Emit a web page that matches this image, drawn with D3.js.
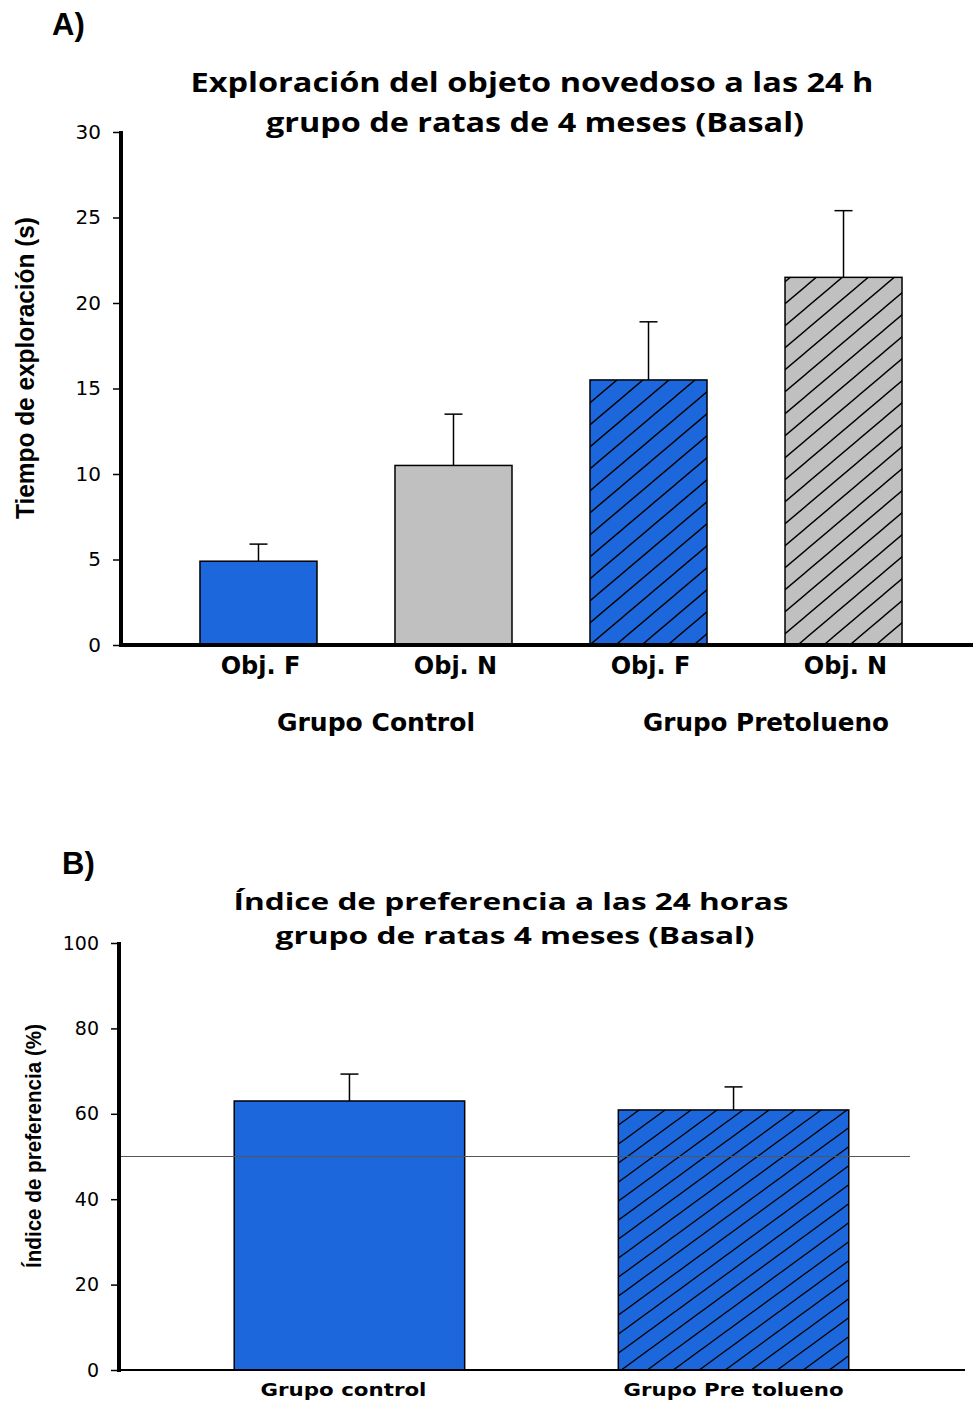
<!DOCTYPE html>
<html>
<head>
<meta charset="utf-8">
<script src="https://cdn.jsdelivr.net/npm/d3@7"></script>
<style>
  body { margin: 0; background: #fff; }
  svg { display: block; }
</style>
</head>
<body>
<div id="chart"></div>
<script>
// Panel A data
const catsA = ["Obj. F", "Obj. N", "Obj. F", "Obj. N"];
const meansA = [4.9, 10.5, 15.5, 21.5];
const errsA = [1.0, 3.0, 3.4, 3.9];
const fillsA = ["#1c67db", "#c0c0c0", "#1c67db", "#c0c0c0"];
const hatchA = [false, false, true, true];
const groupsA = ["Grupo Control", "Grupo Pretolueno"];
const ticksA = [0, 5, 10, 15, 20, 25, 30];

// Panel B data
const catsB = ["Grupo control", "Grupo Pre tolueno"];
const meansB = [63.0, 60.9];
const errsB = [6.3, 5.4];
const hatchB = [false, true];
const ticksB = [0, 20, 40, 60, 80, 100];
const refLineB = 50;

const W = 973, H = 1404;
const blue = "#1c67db";

const svg = d3.select("#chart").append("svg")
    .attr("width", W)
    .attr("height", H);

const defs = svg.append("defs");

// diagonal hatch patterns
function makeHatch(id, bg, w, h) {
    const p = defs.append("pattern")
        .attr("id", id)
        .attr("patternUnits", "userSpaceOnUse")
        .attr("width", w)
        .attr("height", h);
    p.append("rect").attr("width", w).attr("height", h).attr("fill", bg);
    p.append("path")
        .attr("d", `M0,${h} L${w},0 M${-w / 2},${h / 2} L${w / 2},${-h / 2} M${w / 2},${h * 1.5} L${w * 1.5},${h / 2}`)
        .attr("stroke", "#000")
        .attr("stroke-width", 1.4);
}
makeHatch("hatchBlueA", blue, 26, 22);
makeHatch("hatchGrayA", "#c0c0c0", 26, 22);
makeHatch("hatchBlueB", blue, 26, 19);

const titleFont = "'Open Sans', 'Noto Sans', sans-serif";
const arial = "'Liberation Sans', Arial, sans-serif";
const dejavu = "'DejaVu Sans', Verdana, sans-serif";

// ---------- PANEL A ----------
const xA = d3.scaleBand()
    .domain(d3.range(catsA.length))
    .range([121, 981])
    .paddingInner(0.4)
    .paddingOuter(0.405);

const yA = d3.scaleLinear().domain([0, 30]).range([645, 132]);

svg.append("text")
    .attr("x", 52).attr("y", 35)
    .style("font-family", arial).style("font-weight", "bold").style("font-size", "31px")
    .text("A)");

const titleA = svg.append("text")
    .attr("text-anchor", "middle")
    .style("font-family", titleFont).style("font-weight", "bold").style("font-size", "26px");
titleA.append("tspan").attr("x", 532).attr("y", 92)
    .attr("textLength", 683).attr("lengthAdjust", "spacingAndGlyphs")
    .text("Exploración del objeto novedoso a las 24 h");
titleA.append("tspan").attr("x", 535).attr("y", 132)
    .attr("textLength", 538).attr("lengthAdjust", "spacingAndGlyphs")
    .text("grupo de ratas de 4 meses (Basal)");

// bars
const gA = svg.append("g");
gA.selectAll("rect.bar")
    .data(meansA)
    .enter().append("rect")
    .attr("class", "bar")
    .attr("x", (d, i) => xA(i))
    .attr("width", xA.bandwidth())
    .attr("y", d => yA(d))
    .attr("height", d => yA(0) - yA(d))
    .attr("fill", (d, i) => hatchA[i] ? (fillsA[i] === blue ? "url(#hatchBlueA)" : "url(#hatchGrayA)") : fillsA[i])
    .attr("stroke", "#000")
    .attr("stroke-width", 1.5);

// error bars
meansA.forEach((m, i) => {
    const cx = xA(i) + xA.bandwidth() / 2;
    gA.append("line")
        .attr("x1", cx).attr("x2", cx)
        .attr("y1", yA(m)).attr("y2", yA(m + errsA[i]))
        .attr("stroke", "#000").attr("stroke-width", 1.5);
    gA.append("line")
        .attr("x1", cx - 9).attr("x2", cx + 9)
        .attr("y1", yA(m + errsA[i])).attr("y2", yA(m + errsA[i]))
        .attr("stroke", "#000").attr("stroke-width", 1.5);
});

// y axis
const yAxisA = svg.append("g")
    .attr("transform", "translate(121,0)")
    .call(d3.axisLeft(yA).tickValues(ticksA).tickSize(8).tickPadding(12));
yAxisA.select(".domain").remove();
yAxisA.selectAll("text").style("font-family", dejavu).style("font-size", "20px").attr("fill", "#000");
yAxisA.selectAll("line").attr("stroke-width", 1.5);
svg.append("line")
    .attr("x1", 121).attr("x2", 121).attr("y1", yA(30) - 1).attr("y2", yA(0) + 2)
    .attr("stroke", "#000").attr("stroke-width", 4);
svg.append("line")
    .attr("x1", 119).attr("x2", W).attr("y1", yA(0)).attr("y2", yA(0))
    .attr("stroke", "#000").attr("stroke-width", 4);

// x labels
const xAxisA = svg.append("g")
    .attr("transform", `translate(0,${yA(0)})`)
    .call(d3.axisBottom(xA).tickSize(0).tickPadding(12).tickFormat(i => catsA[i]));
xAxisA.select(".domain").remove();
xAxisA.selectAll("text")
    .attr("dx", 2)
    .style("font-family", dejavu).style("font-weight", "bold").style("font-size", "24px").attr("fill", "#000");

// group labels
const groupLen = [198, 246];
groupsA.forEach((g, k) => {
    const mid = (xA(2 * k) + xA(2 * k + 1) + xA.bandwidth()) / 2;
    svg.append("text")
        .attr("x", mid + 20).attr("y", 731)
        .attr("text-anchor", "middle")
        .attr("textLength", groupLen[k]).attr("lengthAdjust", "spacingAndGlyphs")
        .style("font-family", dejavu).style("font-weight", "bold").style("font-size", "24px")
        .text(g);
});

svg.append("text")
    .attr("transform", "translate(34,368) rotate(-90)")
    .attr("text-anchor", "middle")
    .attr("textLength", 302).attr("lengthAdjust", "spacingAndGlyphs")
    .style("font-family", arial).style("font-weight", "bold").style("font-size", "25px")
    .text("Tiempo de exploración (s)");

// ---------- PANEL B ----------
const xB = d3.scaleBand()
    .domain(d3.range(catsB.length))
    .range([119, 964])
    .paddingInner(0.4)
    .paddingOuter(0.3);

const yB = d3.scaleLinear().domain([0, 100]).range([1370, 943]);

svg.append("text")
    .attr("x", 62).attr("y", 874)
    .style("font-family", arial).style("font-weight", "bold").style("font-size", "31px")
    .text("B)");

const titleB = svg.append("text")
    .attr("text-anchor", "middle")
    .style("font-family", titleFont).style("font-weight", "bold").style("font-size", "23px");
titleB.append("tspan").attr("x", 511).attr("y", 910)
    .attr("textLength", 555).attr("lengthAdjust", "spacingAndGlyphs")
    .text("Índice de preferencia a las 24 horas");
titleB.append("tspan").attr("x", 515).attr("y", 944)
    .attr("textLength", 479).attr("lengthAdjust", "spacingAndGlyphs")
    .text("grupo de ratas 4 meses (Basal)");

const gB = svg.append("g");
gB.selectAll("rect.bar")
    .data(meansB)
    .enter().append("rect")
    .attr("class", "bar")
    .attr("x", (d, i) => xB(i))
    .attr("width", xB.bandwidth())
    .attr("y", d => yB(d))
    .attr("height", d => yB(0) - yB(d))
    .attr("fill", (d, i) => hatchB[i] ? "url(#hatchBlueB)" : blue)
    .attr("stroke", "#000")
    .attr("stroke-width", 1.5);

meansB.forEach((m, i) => {
    const cx = xB(i) + xB.bandwidth() / 2;
    gB.append("line")
        .attr("x1", cx).attr("x2", cx)
        .attr("y1", yB(m)).attr("y2", yB(m + errsB[i]))
        .attr("stroke", "#000").attr("stroke-width", 1.5);
    gB.append("line")
        .attr("x1", cx - 9).attr("x2", cx + 9)
        .attr("y1", yB(m + errsB[i])).attr("y2", yB(m + errsB[i]))
        .attr("stroke", "#000").attr("stroke-width", 1.5);
});

// 50% reference line
svg.append("line")
    .attr("x1", 121).attr("x2", 910)
    .attr("y1", yB(refLineB)).attr("y2", yB(refLineB))
    .attr("stroke", "#555").attr("stroke-width", 1);

const yAxisB = svg.append("g")
    .attr("transform", "translate(119,0)")
    .call(d3.axisLeft(yB).tickValues(ticksB).tickSize(8).tickPadding(12));
yAxisB.select(".domain").remove();
yAxisB.selectAll("text").style("font-family", dejavu).style("font-size", "19px").attr("fill", "#000");
yAxisB.selectAll("line").attr("stroke-width", 1.5);
svg.append("line")
    .attr("x1", 119).attr("x2", 119).attr("y1", yB(100) - 1).attr("y2", yB(0) + 2)
    .attr("stroke", "#000").attr("stroke-width", 4);
svg.append("line")
    .attr("x1", 117).attr("x2", 965).attr("y1", yB(0)).attr("y2", yB(0))
    .attr("stroke", "#000").attr("stroke-width", 2);

const catLenB = [166, 220];
const catShiftB = [-6, 0];
const xAxisB = svg.append("g")
    .attr("transform", `translate(0,${yB(0)})`)
    .call(d3.axisBottom(xB).tickSize(0).tickPadding(13).tickFormat(i => catsB[i]));
xAxisB.select(".domain").remove();
xAxisB.selectAll("text")
    .attr("dx", i => catShiftB[i])
    .attr("textLength", i => catLenB[i]).attr("lengthAdjust", "spacingAndGlyphs")
    .style("font-family", dejavu).style("font-weight", "bold").style("font-size", "18px").attr("fill", "#000");

svg.append("text")
    .attr("transform", "translate(41,1146) rotate(-90)")
    .attr("text-anchor", "middle")
    .attr("textLength", 244).attr("lengthAdjust", "spacingAndGlyphs")
    .style("font-family", arial).style("font-weight", "bold").style("font-size", "22px")
    .text("Índice de preferencia (%)");
</script>
</body>
</html>
